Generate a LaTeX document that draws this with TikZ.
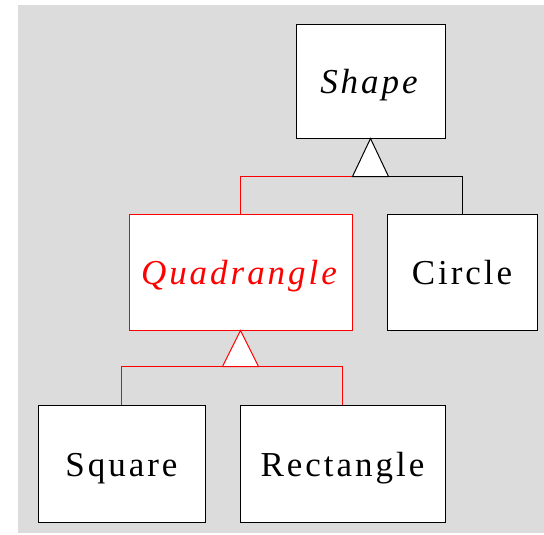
\documentclass[tikz,border=0pt]{standalone}
\usepackage{fontspec}
\setmainfont{Liberation Serif}[LetterSpace=8.5]
\begin{document}
\begin{tikzpicture}[x=1pt,y=-1pt,
  cls/.style={draw=black,fill=white,line width=1pt,inner sep=0pt,text height=25pt,text depth=0pt,font=\fontsize{35}{42}\selectfont},
  redcls/.style={cls,draw=red,text=red},
  tri/.style={line width=1pt,fill=white,line join=miter},
  link/.style={line width=1pt}]
\useasboundingbox (0,0) rectangle (544,535);
\fill[fill={rgb,255:red,220;green,220;blue,220}] (18,5) rectangle (544,533);
\node[cls,minimum width=149pt,minimum height=113pt] (shape) at (370.5,81.5) {\textit{Shape}};
\node[redcls,minimum width=223pt,minimum height=116pt] (quad) at (240.5,272) {\textit{Quadrangle}};
\node[cls,minimum width=150pt,minimum height=116pt] (circle) at (462,272) {Circle};
\node[cls,minimum width=167pt,minimum height=117pt] (square) at (121.5,463.5) {Square};
\node[cls,minimum width=205pt,minimum height=117pt] (rect) at (342.5,463.5) {Rectangle};
% first generalization
\coordinate (t1l) at ([xshift=-18pt,yshift=-38pt]shape.south);
\coordinate (t1r) at ([xshift=18pt,yshift=-38pt]shape.south);
\draw[link,red] (t1l) -| (quad.north);
\draw[link,black] (t1r) -| (circle.north);
\draw[tri,draw=black] (shape.south) -- (t1l) -- (t1r) -- cycle;
% second generalization
\coordinate (t2l) at ([xshift=-18pt,yshift=-36pt]quad.south);
\coordinate (t2r) at ([xshift=18pt,yshift=-36pt]quad.south);
\draw[link,red] (t2l) -| (square.north);
\draw[link,red] (t2r) -| (rect.north);
\draw[tri,draw=red] (quad.south) -- (t2l) -- (t2r) -- cycle;
\end{tikzpicture}
\end{document}
